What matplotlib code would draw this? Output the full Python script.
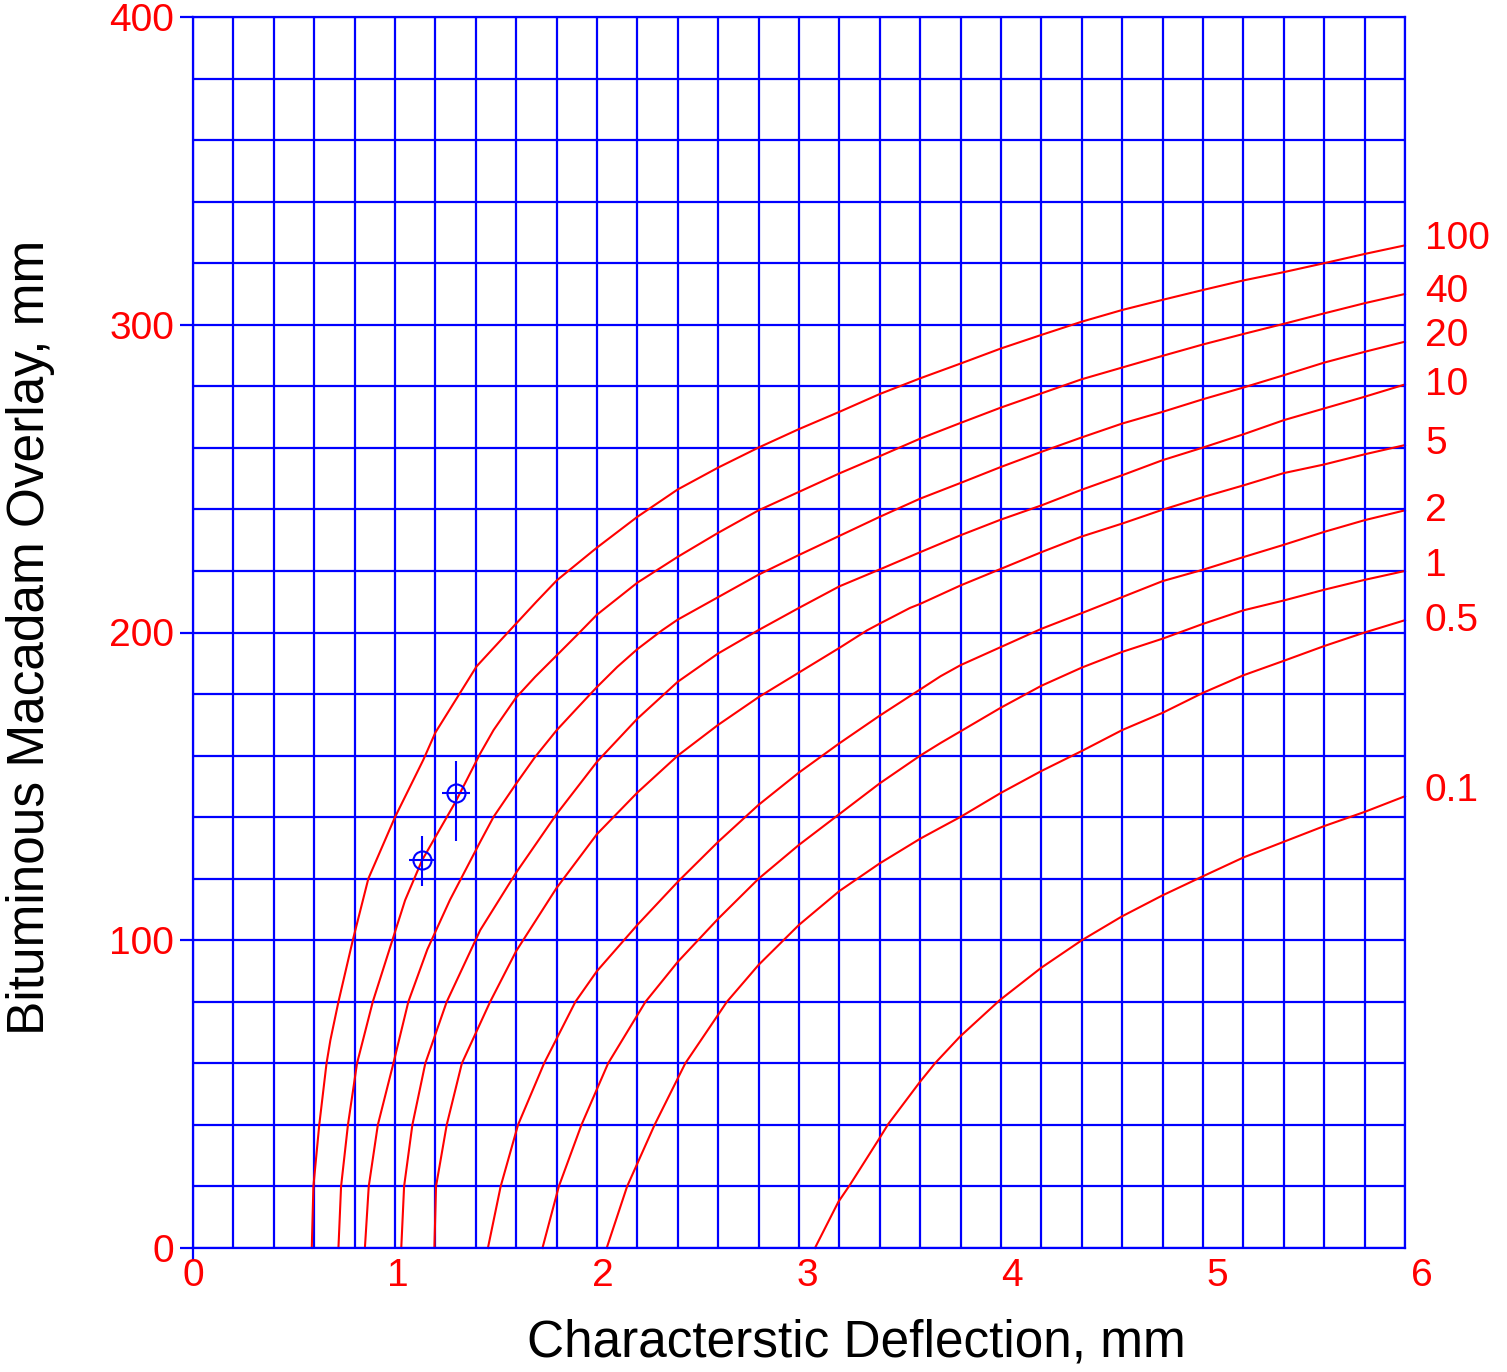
import numpy as np
import matplotlib
matplotlib.use("Agg")
import matplotlib.pyplot as plt

plt.rcParams["font.family"] = ["Liberation Sans", "DejaVu Sans"]

# Overlay design curves (label = design traffic, msa)
curve_labels = ["100", "40", "20", "10", "5", "2", "1", "0.5", "0.1"]
label_y = [327.8, 310.7, 296.5, 280.3, 261.3, 239.4, 221.7, 203.7, 148.5]

c100_x = [0.588, 0.596, 0.625, 0.661, 0.68, 0.72, 0.791, 0.868, 1.0, 1.14, 1.2, 1.404, 1.553,
          1.70, 1.802, 2.0, 2.2, 2.4, 2.6, 2.8, 3.0, 3.2, 3.4, 3.6, 3.8, 4.0, 4.2, 4.4, 4.6,
          4.8, 5.0, 5.2, 5.4, 5.6, 5.8, 6.0]
c100_y = [0, 20, 40, 60, 67.5, 80, 100, 120, 140, 158.6, 167.5, 189, 199.6,
          210, 217.0, 227.6, 237.6, 246.5, 253.6, 260.1, 266.1, 271.7, 277.5, 282.6, 287.4,
          292.3, 296.7, 301.0, 304.8, 308.1, 311.3, 314.4, 317.1, 320.0, 323.0, 325.8]

c40_x = [0.720, 0.733, 0.767, 0.812, 0.890, 1.050, 1.134, 1.30, 1.422, 1.488, 1.6, 1.694,
         1.801, 1.9, 2.0, 2.2, 2.4, 2.6, 2.8, 3.0, 3.2, 3.4, 3.6, 3.8, 4.0, 4.2, 4.4, 4.6,
         4.8, 5.0, 5.2, 5.4, 5.6, 5.8, 6.0]
c40_y = [0, 20, 40, 60, 80, 113, 126, 145, 160.7, 168.3, 178.9, 185.6,
         192.6, 199.1, 205.8, 216.2, 224.6, 232.4, 239.7, 245.7, 251.7, 257.3, 263.0, 268.1,
         273.1, 277.7, 282.3, 286.1, 289.9, 293.6, 297.0, 300.3, 303.7, 307.0, 310.0]

c20_x = [0.851, 0.870, 0.915, 0.992, 1.066, 1.16, 1.272, 1.422, 1.488, 1.6, 1.694, 1.801,
         1.9, 2.0, 2.1, 2.2, 2.322, 2.4, 2.6, 2.8, 3.0, 3.2, 3.4, 3.6, 3.8, 4.0, 4.2, 4.4,
         4.6, 4.8, 5.0, 5.2, 5.4, 5.6, 5.8, 6.0]
c20_y = [0, 20, 40, 60, 80, 97, 113.1, 132, 140.1, 150.9, 159.6, 168.3,
         175.3, 182.3, 188.8, 194.6, 200.7, 204.2, 211.5, 218.8, 225.2, 231.4, 237.6, 243.5,
         248.6, 253.8, 258.7, 263.4, 267.9, 271.7, 275.8, 279.6, 283.6, 287.7, 291.2, 294.5]

c10_x = [1.031, 1.045, 1.086, 1.150, 1.256, 1.422, 1.6, 1.8, 2.0, 2.2, 2.4, 2.6, 2.8, 3.0,
         3.2, 3.4, 3.6, 3.8, 4.0, 4.2, 4.4, 4.6, 4.8, 5.0, 5.2, 5.4, 5.6, 5.8, 6.0]
c10_y = [0, 20, 40, 60, 80, 103.3, 122, 141, 158, 172, 184, 193.2, 200.8, 208.0,
         215.0, 220.5, 226.1, 231.6, 236.7, 241.3, 246.4, 251.1, 256.0, 260.1, 264.4, 269.0,
         272.8, 276.6, 280.6]

c5_x = [1.195, 1.203, 1.256, 1.331, 1.471, 1.6, 1.8, 2.0, 2.2, 2.4, 2.6, 2.8, 3.0, 3.2,
        3.337, 3.4, 3.55, 3.6, 3.8, 4.0, 4.2, 4.4, 4.6, 4.8, 5.0, 5.2, 5.4, 5.6, 5.8, 6.0]
c5_y = [0, 20, 40, 60, 80, 96.5, 117, 134.5, 148, 160, 170, 179, 187, 195,
        200.7, 202.9, 208.0, 209.3, 215.3, 220.7, 226.1, 231.2, 235.4, 239.9, 244.0, 247.8,
        251.8, 254.6, 257.9, 260.9]

c2_x = [1.46, 1.523, 1.609, 1.738, 1.893, 2.0, 2.2, 2.4, 2.6, 2.8, 3.0, 3.2, 3.4, 3.6,
        3.701, 3.8, 4.0, 4.2, 4.4, 4.6, 4.8, 5.0, 5.2, 5.4, 5.6, 5.8, 6.0]
c2_y = [0, 20, 40, 60, 80, 90, 105, 119, 132, 144, 154.5, 164, 173, 181.5,
        185.8, 189.4, 195.3, 201.2, 206.3, 211.5, 216.7, 220.4, 224.5, 228.5, 232.7, 236.5,
        239.7]

c1_x = [1.730, 1.811, 1.923, 2.055, 2.24, 2.4, 2.6, 2.8, 3.0, 3.2, 3.4, 3.6, 3.701, 3.8,
        4.0, 4.2, 4.4, 4.6, 4.8, 5.0, 5.2, 5.4, 5.6, 5.8, 6.0]
c1_y = [0, 20, 40, 60, 80, 93, 107, 120, 131, 141, 151, 160, 164.1, 167.9,
        175.6, 182.7, 188.6, 193.7, 198.0, 202.8, 207.2, 210.4, 213.9, 217.1, 220.0]

c05_x = [2.048, 2.149, 2.285, 2.437, 2.643, 2.8, 3.0, 3.2, 3.4, 3.6, 3.701, 3.8, 4.0, 4.2,
         4.4, 4.6, 4.8, 5.0, 5.2, 5.4, 5.6, 5.8, 6.0]
c05_y = [0, 20, 40, 60, 80, 92, 105, 116, 125, 133, 136.6, 140.1, 147.9, 155.0,
         161.5, 168.3, 173.9, 180.4, 186.1, 190.8, 195.6, 200.0, 204.0]

c01_x = [3.079, 3.195, 3.252, 3.393, 3.442, 3.599, 3.673, 3.797, 3.995, 4.2, 4.4, 4.6, 4.8,
         5.0, 5.2, 5.4, 5.6, 5.8, 6.0]
c01_y = [0, 15, 20.5, 35.1, 40.3, 54.0, 60, 68.7, 80.6, 91.1, 100.0, 107.8, 114.6,
         120.8, 126.9, 132.0, 137.1, 141.7, 146.8]

curves_x = [c100_x, c40_x, c20_x, c10_x, c5_x, c2_x, c1_x, c05_x, c01_x]
curves_y = [c100_y, c40_y, c20_y, c10_y, c5_y, c2_y, c1_y, c05_y, c01_y]

# Measured sections
meas_x = [1.134, 1.302]
meas_y = [126.1, 148.0]
meas_xerr = [0.064, 0.067]
meas_yerr_lo = [8.4, 15.7]
meas_yerr_hi = [7.8, 10.3]

x_ticks = [0, 1, 2, 3, 4, 5, 6]
y_ticks = [0, 100, 200, 300, 400]

fig = plt.figure(figsize=(15.07, 13.72), dpi=100)
ax = fig.add_axes([193 / 1507, 124 / 1372, 1212 / 1507, 1231 / 1372])

ax.set_xlim(0, 6)
ax.set_ylim(0, 400)

# grid every 0.2 mm and 20 mm
ax.set_xticks(np.arange(0, 6.001, 0.2), minor=True)
ax.set_yticks(np.arange(0, 400.1, 20), minor=True)
ax.set_xticks([0])
ax.set_xticklabels([])
ax.set_yticks(y_ticks)
ax.set_yticklabels([str(v) for v in y_ticks])
ax.grid(which="both", color="blue", linewidth=1.6)
ax.set_axisbelow(True)
ax.tick_params(which="minor", length=0)
ax.tick_params(which="major", length=9.5, width=1.6, color="blue", direction="out")
ax.tick_params(axis="y", labelcolor="red", labelsize=28, pad=4)
for s in ax.spines.values():
    s.set_color("blue")
    s.set_linewidth(1.6)

# x tick labels sit a little to the right of their grid lines
for v in x_ticks:
    ax.text(v * 1.014, -0.0085, str(v), transform=ax.get_xaxis_transform(),
            ha="center", va="top", color="red", fontsize=28)

for lab, ly, xs, ys in zip(curve_labels, label_y, curves_x, curves_y):
    ax.plot(xs, ys, color="red", linewidth=1.5, clip_on=False)
    ax.text(1.0165, ly, lab, transform=ax.get_yaxis_transform(),
            ha="left", va="center", color="red", fontsize=28)

ax.errorbar(meas_x, meas_y, xerr=meas_xerr, yerr=[meas_yerr_lo, meas_yerr_hi],
            fmt="o", color="blue", markerfacecolor="none", markersize=13,
            markeredgewidth=1.5, elinewidth=1.5, capsize=0, zorder=5)

fig.text(856 / 1507, 1 - 1343 / 1372, "Characterstic Deflection, mm",
         ha="center", va="center", fontsize=37)
fig.text(31 / 1507, 1 - 637 / 1372, "Bituminous Macadam Overlay, mm",
         ha="center", va="center", rotation=90, fontsize=37)

fig.savefig("out.png", dpi=100)
